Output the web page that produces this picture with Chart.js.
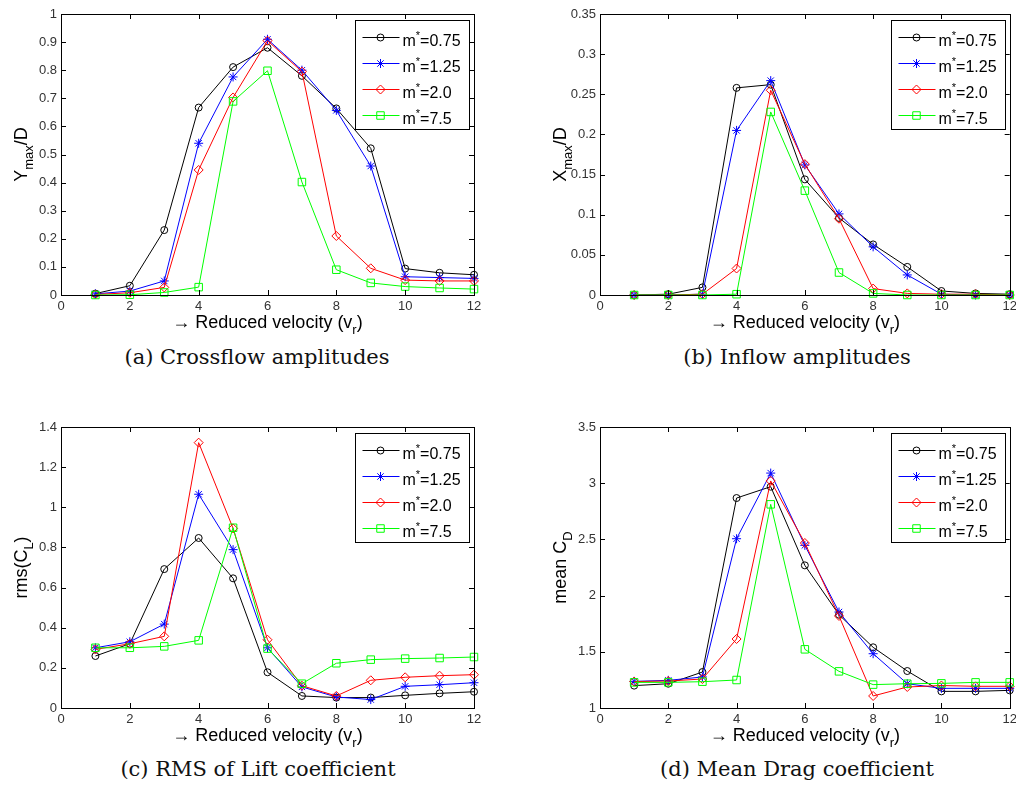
<!DOCTYPE html>
<html>
<head>
<meta charset="utf-8">
<script src="https://cdn.jsdelivr.net/npm/chart.js@4.4.1/dist/chart.umd.min.js"></script>
<style>
  body { margin: 0; background: #fff; width: 1016px; height: 787px; overflow: hidden; position: relative; }
  canvas { position: absolute; }
  .cap { position: absolute; font-family: "DejaVu Serif", serif; font-size: 21px; line-height: 22px;
         color: #111; white-space: nowrap; transform: translateX(-50%); }
</style>
</head>
<body>
<canvas id="pa" width="500" height="340" style="left:0;top:0"></canvas>
<canvas id="pb" width="516" height="340" style="left:500px;top:0"></canvas>
<canvas id="pc" width="500" height="340" style="left:0;top:410px"></canvas>
<canvas id="pd" width="516" height="340" style="left:500px;top:410px"></canvas>
<div class="cap" style="left:257px;top:346px">(a) Crossflow amplitudes</div>
<div class="cap" style="left:797px;top:346px">(b) Inflow amplitudes</div>
<div class="cap" style="left:258px;top:758px">(c) RMS of Lift coefficient</div>
<div class="cap" style="left:797px;top:758px">(d) Mean Drag coefficient</div>
<script>
// reduced velocity
const vr = [1, 2, 3, 4, 5, 6, 7, 8, 9, 10, 11, 12];
const massLabels = ['0.75', '1.25', '2.0', '7.5'];

// (a) crossflow amplitude Ymax/D
const ymax075 = [0.005, 0.033, 0.231, 0.667, 0.811, 0.880, 0.780, 0.664, 0.522, 0.094, 0.079, 0.072];
const ymax125 = [0.004, 0.014, 0.050, 0.540, 0.776, 0.910, 0.800, 0.657, 0.459, 0.065, 0.062, 0.059];
const ymax20  = [0.002, 0.008, 0.027, 0.445, 0.703, 0.905, 0.795, 0.210, 0.095, 0.053, 0.050, 0.050];
const ymax75  = [0.000, 0.001, 0.009, 0.028, 0.689, 0.798, 0.402, 0.090, 0.043, 0.030, 0.025, 0.021];

// (b) inflow amplitude Xmax/D
const xmax075 = [0.000, 0.001, 0.0095, 0.258, 0.262, 0.144, 0.096, 0.063, 0.035, 0.005, 0.002, 0.001];
const xmax125 = [0.000, 0.000, 0.001, 0.205, 0.267, 0.162, 0.101, 0.060, 0.025, 0.001, 0.000, 0.000];
const xmax20  = [0.000, 0.000, 0.001, 0.033, 0.255, 0.163, 0.095, 0.008, 0.002, 0.001, 0.001, 0.000];
const xmax75  = [0.000, 0.000, 0.000, 0.001, 0.228, 0.130, 0.028, 0.002, 0.000, 0.000, 0.000, 0.000];

// (c) rms lift coefficient
const cl075 = [0.259, 0.320, 0.692, 0.847, 0.646, 0.178, 0.060, 0.052, 0.052, 0.063, 0.073, 0.081];
const cl125 = [0.300, 0.330, 0.418, 1.065, 0.789, 0.300, 0.105, 0.055, 0.042, 0.108, 0.116, 0.126];
const cl20  = [0.292, 0.320, 0.357, 1.322, 0.895, 0.340, 0.111, 0.060, 0.138, 0.153, 0.161, 0.166];
const cl75  = [0.300, 0.300, 0.307, 0.337, 0.898, 0.296, 0.121, 0.223, 0.241, 0.246, 0.249, 0.254];

// (d) mean drag coefficient
const cd075 = [1.199, 1.216, 1.320, 2.868, 2.969, 2.269, 1.830, 1.540, 1.329, 1.148, 1.148, 1.157];
const cd125 = [1.237, 1.246, 1.276, 2.506, 3.090, 2.447, 1.854, 1.483, 1.216, 1.175, 1.175, 1.175];
const cd20  = [1.235, 1.240, 1.258, 1.614, 3.020, 2.468, 1.819, 1.107, 1.187, 1.200, 1.193, 1.193];
const cd75  = [1.228, 1.228, 1.234, 1.249, 2.812, 1.522, 1.326, 1.208, 1.216, 1.219, 1.228, 1.228];

const xTitle = [['\u2192 Reduced velocity (v'], ['r', 'sub'], [')']];
const SANS = '"Liberation Sans", Arial, sans-serif';

const styles = [
  { color: '#000000', pointStyle: 'circle', radius: 3.5 },
  { color: '#0000ff', pointStyle: 'star', radius: 4.5 },
  { color: '#ff0000', pointStyle: 'rectRot', radius: 4.5 },
  { color: '#00ff00', pointStyle: 'rect', radius: 5.3 },
];

function drawRich(ctx, parts, cx, cy, size, angle, color) {
  ctx.save();
  ctx.translate(cx, cy);
  ctx.rotate(angle);
  ctx.fillStyle = color;
  ctx.textAlign = 'left';
  ctx.textBaseline = 'alphabetic';
  const fontOf = p => (p[1] ? Math.round(size * 0.7) : size) + 'px ' + SANS;
  let w = 0;
  parts.forEach(p => { ctx.font = fontOf(p); w += ctx.measureText(p[0]).width; });
  let x = -w / 2;
  parts.forEach(p => {
    ctx.font = fontOf(p);
    const dy = p[1] === 'sub' ? size * 0.3 : p[1] === 'sup' ? -size * 0.45 : 0;
    ctx.fillText(p[0], x, size * 0.36 + dy);
    x += ctx.measureText(p[0]).width;
  });
  ctx.restore();
  return w;
}

function marker(ctx, st, x, y) {
  ctx.save();
  ctx.strokeStyle = st.color;
  ctx.fillStyle = 'rgba(0,0,0,0)';
  ctx.lineWidth = 1;
  Chart.helpers.drawPoint(ctx, { pointStyle: st.pointStyle, radius: st.radius, rotation: 0, borderWidth: 1 }, x, y);
  ctx.restore();
}

const framePlugin = {
  id: 'frame',
  afterDraw(chart, args, opts) {
    const { ctx, chartArea: a, scales } = chart;
    ctx.save();
    ctx.strokeStyle = '#000';
    ctx.lineWidth = 1;
    ctx.strokeRect(Math.round(a.left) + 0.5, Math.round(a.top) + 0.5, Math.round(a.right - a.left), Math.round(a.bottom - a.top));
    ctx.beginPath();
    scales.x.ticks.forEach(t => {
      const px = Math.round(scales.x.getPixelForValue(t.value)) + 0.5;
      ctx.moveTo(px, a.bottom); ctx.lineTo(px, a.bottom - 5);
      ctx.moveTo(px, a.top); ctx.lineTo(px, a.top + 5);
    });
    scales.y.ticks.forEach(t => {
      const py = Math.round(scales.y.getPixelForValue(t.value)) + 0.5;
      ctx.moveTo(a.left, py); ctx.lineTo(a.left + 5, py);
      ctx.moveTo(a.right, py); ctx.lineTo(a.right - 5, py);
    });
    ctx.stroke();
    ctx.restore();

    // axis titles
    drawRich(ctx, xTitle, (a.left + a.right) / 2, a.bottom + 27, 18, 0, '#000');
    drawRich(ctx, opts.yTitle, a.left - 40, (a.top + a.bottom) / 2, 18, -Math.PI / 2, '#000');

    // legend
    const bw = 114, bh = 109;
    const bx = Math.round(a.right - 5 - bw) + 0.5, by = Math.round(a.top + 6) + 0.5;
    ctx.save();
    ctx.fillStyle = '#fff';
    ctx.fillRect(bx, by, bw, bh);
    ctx.strokeStyle = '#000';
    ctx.lineWidth = 1;
    ctx.strokeRect(bx, by, bw, bh);
    chart.data.datasets.forEach((ds, i) => {
      const st = styles[i];
      const ry = Math.round(by + 16 + i * 26) + 0.5;
      ctx.strokeStyle = st.color;
      ctx.beginPath();
      ctx.moveTo(bx + 7, ry); ctx.lineTo(bx + 44, ry);
      ctx.stroke();
      marker(ctx, st, bx + 25, ry);
      const parts = [['m'], ['*', 'sup'], ['=' + ds.label]];
      let w = 0;
      parts.forEach(p => { ctx.font = (p[1] ? 11 : 16) + 'px ' + SANS; w += ctx.measureText(p[0]).width; });
      drawRich(ctx, parts, bx + 47 + w / 2, ry + 3, 16, 0, '#000');
    });
    ctx.restore();
  }
};

function panel(id, series, plot, yMin, yMax, yStep, yTitle) {
  const canvas = document.getElementById(id);
  const zeroPad = s => { s.paddingTop = 0; s.paddingBottom = 0; s.paddingLeft = 0; s.paddingRight = 0; };
  const tickFont = { family: SANS, size: 13 };
  return new Chart(canvas, {
    type: 'line',
    data: {
      datasets: series.map((s, i) => ({
        label: massLabels[i],
        data: vr.map((x, k) => ({ x, y: s[k] })),
        borderColor: styles[i].color,
        borderWidth: 1,
        pointStyle: styles[i].pointStyle,
        pointRadius: styles[i].radius,
        pointBorderColor: styles[i].color,
        pointBackgroundColor: 'rgba(0,0,0,0)',
        pointBorderWidth: 1,
        tension: 0,
        fill: false,
        clip: false,
        order: 3 - i,
      })),
    },
    options: {
      responsive: false,
      animation: false,
      devicePixelRatio: 1,
      layout: { padding: { left: 0, top: plot.top, right: canvas.width - plot.right, bottom: 0 } },
      plugins: { legend: { display: false }, tooltip: { enabled: false }, frame: { yTitle } },
      scales: {
        x: {
          type: 'linear', min: 0, max: 12,
          ticks: { stepSize: 2, font: tickFont, color: '#333', padding: 4, maxRotation: 0, autoSkip: false },
          grid: { display: false, drawTicks: false },
          border: { display: false },
          afterFit: s => { s.height = canvas.height - plot.bottom; zeroPad(s); },
        },
        y: {
          type: 'linear', min: yMin, max: yMax,
          ticks: { stepSize: yStep, font: tickFont, color: '#333', padding: 4, callback: v => String(+v.toFixed(3)) },
          grid: { display: false, drawTicks: false },
          border: { display: false },
          afterFit: s => { s.width = plot.left; zeroPad(s); },
        },
      },
    },
    plugins: [framePlugin],
  });
}

panel('pa', [ymax075, ymax125, ymax20, ymax75], { left: 61, top: 14, right: 474, bottom: 295 }, 0, 1, 0.1,
  [['Y'], ['max', 'sub'], ['/D']]);
panel('pb', [xmax075, xmax125, xmax20, xmax75], { left: 100, top: 14, right: 512, bottom: 295 }, 0, 0.35, 0.05,
  [['X'], ['max', 'sub'], ['/D']]);
panel('pc', [cl075, cl125, cl20, cl75], { left: 61, top: 17, right: 474, bottom: 298 }, 0, 1.4, 0.2,
  [['rms(C'], ['L', 'sub'], [')']]);
panel('pd', [cd075, cd125, cd20, cd75], { left: 100, top: 17, right: 512, bottom: 298 }, 1, 3.5, 0.5,
  [['mean C'], ['D', 'sub']]);
</script>
</body>
</html>
